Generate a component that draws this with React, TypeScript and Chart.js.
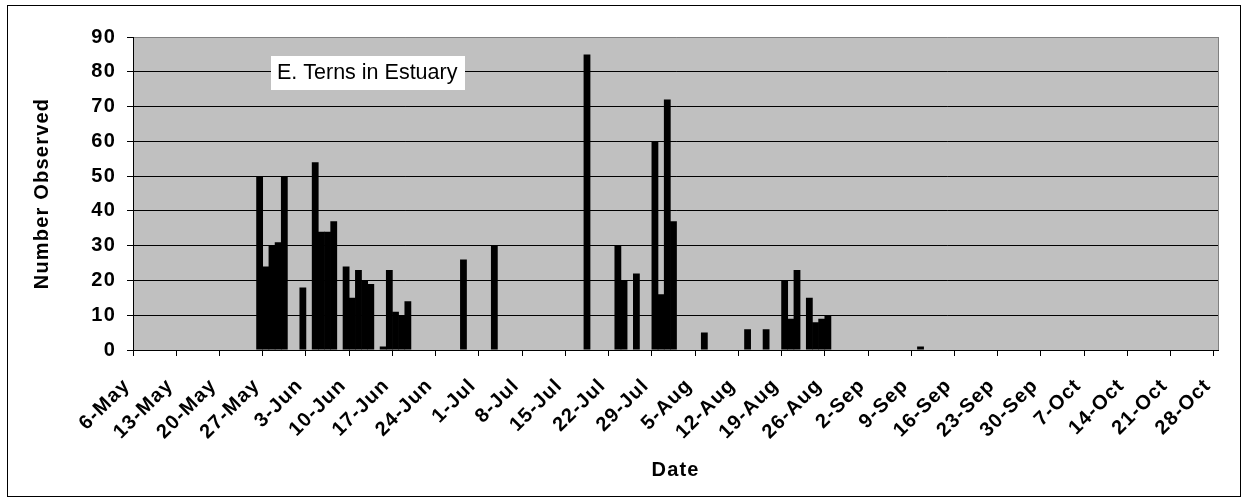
import { useEffect, useRef } from "react";
import { Chart, registerables } from "chart.js";

Chart.register(...registerables);

// Daily counts of terns in the estuary, keyed by observation date.
const obsDates = [
  "26-May", "27-May", "28-May", "29-May", "30-May", "2-Jun", "4-Jun", "5-Jun", "6-Jun", "7-Jun",
  "9-Jun", "10-Jun", "11-Jun", "12-Jun", "13-Jun", "15-Jun", "16-Jun", "17-Jun", "18-Jun", "19-Jun",
  "28-Jun", "3-Jul", "18-Jul", "23-Jul", "24-Jul", "26-Jul", "29-Jul", "30-Jul", "31-Jul", "1-Aug",
  "6-Aug", "13-Aug", "16-Aug", "19-Aug", "20-Aug", "21-Aug", "23-Aug", "24-Aug", "25-Aug", "26-Aug",
  "10-Sep",
];
const obsCounts = [
  50, 24, 30, 31, 50, 18, 54, 34, 34, 37,
  24, 15, 23, 20, 19, 1, 23, 11, 10, 14,
  26, 30, 85, 30, 20, 22, 60, 16, 72, 37,
  5, 6, 6, 20, 9, 23, 15, 8, 9, 10,
  1,
];

// Weekly tick labels along the date axis.
const tickDates = [
  "6-May", "13-May", "20-May", "27-May", "3-Jun", "10-Jun", "17-Jun", "24-Jun", "1-Jul", "8-Jul",
  "15-Jul", "22-Jul", "29-Jul", "5-Aug", "12-Aug", "19-Aug", "26-Aug", "2-Sep", "9-Sep", "16-Sep",
  "23-Sep", "30-Sep", "7-Oct", "14-Oct", "21-Oct", "28-Oct",
];
const yMin = 0;
const yMax = 90;
const yStep = 10;

const chartTitle = "E. Terns in Estuary";
const xTitle = "Date";
const yTitle = "Number Observed";

const MONTHS: Record<string, number> = { May: 4, Jun: 5, Jul: 6, Aug: 7, Sep: 8, Oct: 9 };
const ORIGIN = Date.UTC(2007, 4, 6);

// Days elapsed since the first axis date.
function dayIndex(label: string): number {
  const [d, m] = label.split("-");
  return Math.round((Date.UTC(2007, MONTHS[m], Number(d)) - ORIGIN) / 86400000);
}

const FONT = "'Liberation Sans', Arial, Helvetica, sans-serif";
const LABEL_SPACING = "1.2px";

function setSpacing(chart: any, value: string) {
  const ctx: any = chart.ctx;
  if (ctx && "letterSpacing" in ctx) ctx.letterSpacing = value;
}

const decorPlugin = {
  id: "decor",
  beforeUpdate(chart: Chart) {
    setSpacing(chart, LABEL_SPACING);
  },
  beforeDraw(chart: Chart) {
    setSpacing(chart, LABEL_SPACING);
    const { ctx, chartArea: a } = chart;
    ctx.save();
    ctx.fillStyle = "#ffffff";
    ctx.fillRect(0, 0, chart.width, chart.height);
    ctx.strokeStyle = "#000000";
    ctx.lineWidth = 1;
    ctx.strokeRect(7.5, 5.5, 1233, 491);
    ctx.fillStyle = "#c0c0c0";
    ctx.fillRect(a.left, a.top, a.right - a.left, a.bottom - a.top);
    ctx.restore();
  },
  beforeDatasetsDraw(chart: Chart) {
    const { ctx, chartArea: a } = chart;
    ctx.save();
    ctx.strokeStyle = "#808080";
    ctx.lineWidth = 1;
    ctx.beginPath();
    ctx.moveTo(Math.round(a.right) + 0.5, a.top);
    ctx.lineTo(Math.round(a.right) + 0.5, a.bottom);
    ctx.stroke();
    ctx.restore();
  },
  afterDraw(chart: Chart) {
    const { ctx } = chart;
    ctx.save();
    setSpacing(chart, "0px");
    ctx.fillStyle = "#ffffff";
    ctx.fillRect(271, 56, 194, 34);
    ctx.fillStyle = "#000000";
    ctx.font = `21.5px ${FONT}`;
    ctx.textAlign = "left";
    ctx.textBaseline = "middle";
    ctx.fillText(chartTitle, 277, 73.5);
    ctx.restore();
  },
};

export default function App() {
  const canvasRef = useRef<HTMLCanvasElement | null>(null);

  useEffect(() => {
    const canvas = canvasRef.current;
    if (!canvas) return;
    const points = obsDates.map((d, i) => ({ x: dayIndex(d) + 0.5, y: obsCounts[i] }));
    const tickValues = tickDates.map(dayIndex);
    const boldFont = { family: FONT, size: 20, weight: "bold" };

    const chart = new Chart(canvas, {
      type: "bar",
      data: {
        datasets: [
          {
            data: points,
            backgroundColor: "#000000",
            borderColor: "#000000",
            borderWidth: 0,
            categoryPercentage: 1,
            barPercentage: 1.1,
          },
        ],
      },
      options: {
        animation: false,
        responsive: false,
        devicePixelRatio: 1,
        layout: { padding: { left: 0, top: 37, right: 28, bottom: 0 } },
        plugins: {
          legend: { display: false },
          tooltip: { enabled: false },
          title: { display: false },
        },
        scales: {
          x: {
            type: "linear",
            min: 0,
            max: 175.7,
            offset: false,
            afterBuildTicks(scale: any) {
              scale.ticks = tickValues.map((v) => ({ value: v }));
            },
            afterFit(scale: any) {
              scale.height = 154;
            },
            ticks: {
              autoSkip: false,
              minRotation: 45,
              maxRotation: 45,
              padding: 18,
              labelOffset: -6,
              color: "#000000",
              font: boldFont,
              callback: (_v: any, i: number) => tickDates[i],
            },
            grid: {
              offset: false,
              drawOnChartArea: false,
              drawTicks: true,
              tickLength: 6,
              tickColor: "#000000",
              color: "#000000",
            },
            border: { display: true, color: "#000000", width: 1 },
            title: {
              display: true,
              text: xTitle,
              color: "#000000",
              font: boldFont,
              padding: { top: 0, bottom: 22 },
            },
          },
          y: {
            min: yMin,
            max: yMax,
            afterFit(scale: any) {
              scale.width = 133;
            },
            ticks: {
              stepSize: yStep,
              padding: 11,
              color: "#000000",
              font: boldFont,
            },
            grid: {
              color: (c: any) => (c.tick && c.tick.value === yMax ? "#808080" : "#000000"),
              lineWidth: 1,
              tickLength: 6,
              tickColor: "#000000",
            },
            border: { display: true, color: "#000000", width: 1 },
            title: {
              display: true,
              text: yTitle,
              color: "#000000",
              font: boldFont,
              padding: { top: 30, bottom: 0 },
            },
          },
        },
      },
      plugins: [decorPlugin],
    } as any);

    return () => chart.destroy();
  }, []);

  return (
    <div style={{ position: "absolute", left: 0, top: 0, width: 1249, height: 504 }}>
      <canvas ref={canvasRef} width={1249} height={504} style={{ display: "block" }} />
    </div>
  );
}
